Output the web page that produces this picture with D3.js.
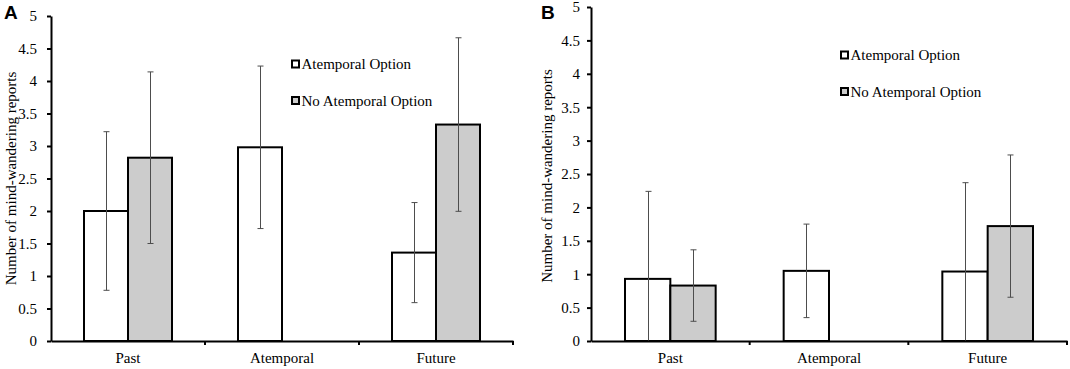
<!DOCTYPE html>
<html>
<head>
<meta charset="utf-8">
<script src="https://cdn.jsdelivr.net/npm/d3@7/dist/d3.min.js"></script>
<style>
  html, body { margin: 0; padding: 0; background: #fff; }
  svg { display: block; }
  text { font-family: "Liberation Serif", "Times New Roman", serif; fill: #000; }
</style>
</head>
<body>
<svg id="chart" width="1070" height="369"></svg>
<script>
// ---------- data ----------
const categories = ["Past", "Atemporal", "Future"];
const seriesNames = ["Atemporal Option", "No Atemporal Option"];
const yTicks = [0, 0.5, 1, 1.5, 2, 2.5, 3, 3.5, 4, 4.5, 5];
const yTitle = "Number of mind-wandering reports";

// Panel A
const aAtemporal = [2.0, 2.98, 1.36];
const aAtemporalErr = [1.22, 1.25, 0.77];
const aNoAtemporal = [2.82, null, 3.33];
const aNoAtemporalErr = [1.32, null, 1.335];

// Panel B
const bAtemporal = [0.93, 1.05, 1.04];
const bAtemporalErr = [1.31, 0.70, 1.33];
const bNoAtemporal = [0.83, null, 1.72];
const bNoAtemporalErr = [0.535, null, 1.065];

const fills = ["#ffffff", "#cccccc"];

const svg = d3.select("#chart");

function drawPanel(cfg) {
  const g = svg.append("g");
  const x = d3.scaleBand().domain(categories).range([cfg.x0, cfg.x1]).paddingInner(0).paddingOuter(0);
  const xs = d3.scaleBand().domain(seriesNames).range([0, x.bandwidth()]).paddingInner(0).paddingOuter(0.75);
  const y = d3.scaleLinear().domain([0, 5]).range([cfg.yBottom, cfg.yTop]);

  const series = [
    { name: seriesNames[0], vals: cfg.s1, errs: cfg.e1, fill: fills[0] },
    { name: seriesNames[1], vals: cfg.s2, errs: cfg.e2, fill: fills[1] }
  ];

  // bars
  series.forEach(s => {
    g.append("g").selectAll("rect")
      .data(categories.map((c, i) => ({ c, v: s.vals[i] })).filter(d => d.v != null))
      .join("rect")
      .attr("x", d => x(d.c) + xs(s.name))
      .attr("y", d => y(d.v))
      .attr("width", xs.bandwidth())
      .attr("height", d => y(0) - y(d.v))
      .attr("fill", s.fill)
      .attr("stroke", "#000")
      .attr("stroke-width", 2);
  });

  // error bars
  series.forEach(s => {
    const data = categories.map((c, i) => ({ c, v: s.vals[i], e: s.errs[i] })).filter(d => d.v != null);
    const eg = g.append("g").attr("stroke", "#4d4d4d").attr("stroke-width", 1).attr("fill", "none");
    data.forEach(d => {
      const cx = Math.round(x(d.c) + xs(s.name) + xs.bandwidth() / 2) + 0.5;
      const lo = Math.max(0, d.v - d.e), hi = d.v + d.e;
      eg.append("line").attr("x1", cx).attr("x2", cx).attr("y1", y(lo)).attr("y2", y(hi));
      eg.append("line").attr("x1", cx - 3).attr("x2", cx + 3).attr("y1", y(hi)).attr("y2", y(hi));
      if (d.v - d.e > 0) {
        eg.append("line").attr("x1", cx - 3).attr("x2", cx + 3).attr("y1", y(lo)).attr("y2", y(lo));
      }
    });
  });

  // y axis
  const ya = g.append("g").attr("transform", `translate(${cfg.x0},0)`)
    .call(d3.axisLeft(y).tickValues(yTicks).tickSize(4).tickSizeOuter(0).tickPadding(cfg.yPad).tickFormat(d => String(d)));
  ya.select(".domain").attr("stroke", "#000").attr("stroke-width", 2);
  ya.selectAll(".tick line").attr("stroke", "#000").attr("stroke-width", 2);
  ya.selectAll(".tick text").attr("font-family", "Liberation Serif").attr("font-size", 15).attr("fill", "#000");

  // x axis
  const xa = g.append("g").attr("transform", `translate(0,${cfg.yBottom})`)
    .call(d3.axisBottom(x).tickSize(0).tickSizeOuter(0).tickPadding(11.5));
  xa.select(".domain").attr("stroke", "#000").attr("stroke-width", 2);
  xa.selectAll(".tick text").attr("font-family", "Liberation Serif").attr("font-size", 15).attr("fill", "#000");
  // boundary ticks
  const bounds = categories.slice(1).map(c => x(c)).concat([x.range()[1]]);
  xa.append("g").selectAll("line").data(bounds).join("line")
    .attr("x1", d => d).attr("x2", d => d).attr("y1", 0).attr("y2", 4)
    .attr("stroke", "#000").attr("stroke-width", 2);

  // y title
  g.append("text")
    .attr("transform", `translate(${cfg.titleX},${(y(0) + y(5)) / 2 + cfg.titleDy}) rotate(-90)`)
    .attr("text-anchor", "middle")
    .attr("font-size", 15)
    .text(yTitle);

  // panel letter
  g.append("text")
    .attr("x", cfg.letterX).attr("y", 19)
    .attr("font-weight", "bold")
    .attr("font-size", 19)
    .style("font-family", "'Liberation Sans', Arial, sans-serif")
    .text(cfg.letter);

  // legend
  const lg = g.append("g");
  seriesNames.forEach((n, i) => {
    const cy = cfg.legY + i * 36.5;
    lg.append("rect").attr("x", cfg.legX + 1).attr("y", cy - 3.5).attr("width", 7).attr("height", 7)
      .attr("fill", fills[i]).attr("stroke", "#000").attr("stroke-width", 2);
    lg.append("text").attr("x", cfg.legX + 10.5).attr("y", cy + 5).attr("font-size", 15).text(n);
  });
}

drawPanel({
  x0: 51, x1: 513, yBottom: 341, yTop: 16,
  s1: aAtemporal, e1: aAtemporalErr, s2: aNoAtemporal, e2: aNoAtemporalErr,
  yPad: 10, titleX: 16, titleDy: 0, letter: "A", letterX: 4,
  legX: 291, legY: 64
});

drawPanel({
  x0: 591, x1: 1067, yBottom: 341, yTop: 7,
  s1: bAtemporal, e1: bAtemporalErr, s2: bNoAtemporal, e2: bNoAtemporalErr,
  yPad: 7, titleX: 552, titleDy: 2, letter: "B", letterX: 541,
  legX: 840, legY: 55
});
</script>
</body>
</html>
